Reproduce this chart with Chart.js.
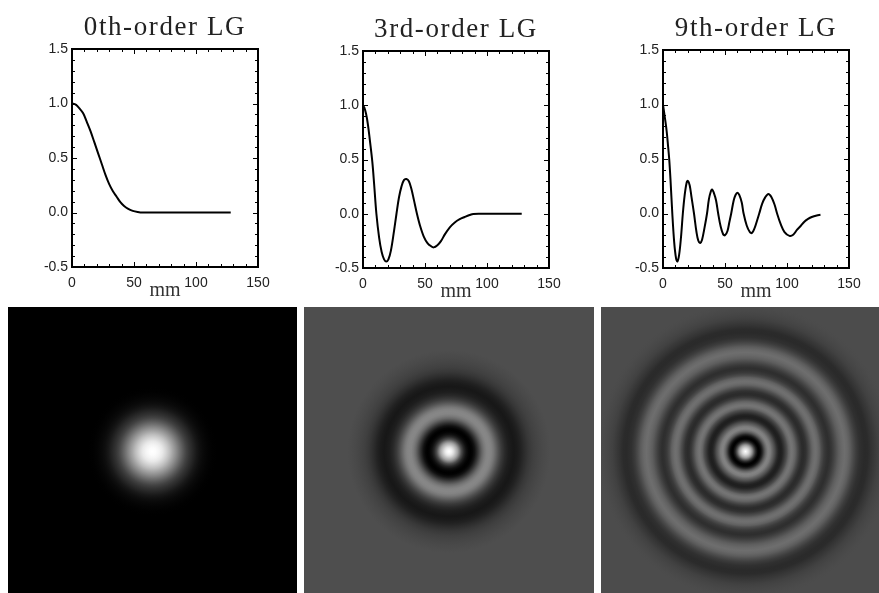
<!DOCTYPE html>
<html>
<head>
<meta charset="utf-8">
<title>LG modes</title>
<script src="https://cdn.jsdelivr.net/npm/chart.js@4"></script>
<style>
    html, body { margin: 0; padding: 0; background: #fff; overflow: hidden; width: 879px; height: 593px; }
    .panel { position: absolute; filter: blur(0.45px); }
</style>
</head>
<body>
<div class="panel" style="left:0;top:0;width:290px;height:300px"><canvas id="line0"></canvas></div>
<div class="panel" style="left:291px;top:2px;width:290px;height:299px"><canvas id="line3"></canvas></div>
<div class="panel" style="left:591px;top:1px;width:290px;height:300px"><canvas id="line9"></canvas></div>
<div class="panel" style="left:8px;top:307px;width:289px;height:289px"><canvas id="img0"></canvas></div>
<div class="panel" style="left:304px;top:307px;width:290px;height:289px"><canvas id="img3"></canvas></div>
<div class="panel" style="left:601px;top:307px;width:289px;height:289px"><canvas id="img9"></canvas></div>
<script>
// Radial profiles (mm, amplitude)
const titles = ['0th-order LG', '3rd-order LG', '9th-order LG'];
const xTicks = [0, 50, 100, 150];
const yTicks = [-0.5, 0, 0.5, 1.0, 1.5];
// half width of each lower image, in mm
const imageHalfMm = [128, 127, 124];

const mm0 = [0, 3, 6, 9, 12, 15, 18, 21, 24, 27, 30, 33, 36, 39, 42, 45, 49, 53, 57, 70, 90, 110, 128];
const amp0 = [1.0, 0.99, 0.955, 0.91, 0.83, 0.745, 0.645, 0.545, 0.445, 0.345, 0.26, 0.195, 0.145, 0.095, 0.06, 0.035, 0.015, 0.005, 0, 0, 0, 0, 0];

const mm3 = [0, 1, 2.5, 4, 5.5, 7.5, 9, 10.8, 13, 15, 17, 18.8, 20.5, 22.5, 25, 27, 29, 31, 33, 35, 37, 39, 41, 43.5, 46, 49, 52, 55, 57, 60, 63, 66, 70, 74, 78, 82, 86, 89, 95, 110, 128];
const amp3 = [1.0, 0.98, 0.92, 0.82, 0.68, 0.48, 0.27, 0.0, -0.22, -0.35, -0.42, -0.44, -0.42, -0.34, -0.16, 0.0, 0.15, 0.25, 0.31, 0.32, 0.30, 0.23, 0.13, 0.0, -0.11, -0.21, -0.27, -0.30, -0.31, -0.29, -0.25, -0.19, -0.125, -0.08, -0.05, -0.03, -0.012, -0.002, 0, 0, 0];

const mm9 = [0, 1, 2, 3, 4, 5, 6, 7.5, 9, 10.5, 11.6, 13, 14.5, 16, 17.5, 19, 20, 21.5, 23, 25, 27, 28.5, 30, 31.5, 33.5, 35.5, 37, 38.5, 39.6, 41, 42.8, 44.5, 46.5, 48.5, 50, 52, 53.5, 55, 57, 58.5, 60, 61.5, 63.5, 65, 67.5, 70, 71.7, 74, 76, 77.6, 80, 82.5, 85, 87.5, 90, 92, 95, 98, 102, 105, 108, 111, 114, 117, 120, 124, 127];
const amp9 = [1.0, 0.92, 0.84, 0.75, 0.63, 0.50, 0.32, 0.0, -0.26, -0.41, -0.44, -0.38, -0.22, 0.0, 0.17, 0.28, 0.30, 0.26, 0.15, 0.0, -0.17, -0.25, -0.27, -0.24, -0.13, 0.0, 0.13, 0.20, 0.22, 0.19, 0.12, 0.0, -0.12, -0.19, -0.20, -0.16, -0.08, 0.0, 0.12, 0.17, 0.19, 0.17, 0.10, 0.0, -0.11, -0.17, -0.18, -0.13, -0.06, 0.0, 0.09, 0.15, 0.18, 0.15, 0.08, 0.0, -0.10, -0.17, -0.205, -0.195, -0.15, -0.115, -0.075, -0.05, -0.032, -0.018, -0.012];

const profiles = [[mm0, amp0], [mm3, amp3], [mm9, amp9]];

// inward IDL style ticks on all four sides, plus the box
const boxTicks = {
    id: 'boxTicks',
    beforeDraw(chart) {
        // Computer Modern is set wider than Liberation Serif
        const block = chart.titleBlock;
        if (block && !block.spaced) {
            const draw = block.draw;
            block.draw = function() {
                chart.ctx.letterSpacing = '1.6px';
                draw.call(block);
                chart.ctx.letterSpacing = '0px';
            };
            block.spaced = true;
        }
    },
    afterDatasetsDraw(chart) {
        const { ctx, chartArea: a, scales: { x, y } } = chart;
        ctx.save();
        ctx.strokeStyle = '#000';
        ctx.lineWidth = 1;
        ctx.beginPath();
        for (let v = 0; v <= 150; v += 10) {
            const px = Math.round(x.getPixelForValue(v)) + 0.5;
            const len = v % 50 === 0 ? 5 : 3;
            ctx.moveTo(px, a.bottom); ctx.lineTo(px, a.bottom - len);
            ctx.moveTo(px, a.top); ctx.lineTo(px, a.top + len);
        }
        for (let i = -5; i <= 15; i++) {
            const py = Math.round(y.getPixelForValue(i / 10)) + 0.5;
            const len = i % 5 === 0 ? 5 : 3;
            ctx.moveTo(a.left, py); ctx.lineTo(a.left + len, py);
            ctx.moveTo(a.right, py); ctx.lineTo(a.right - len, py);
        }
        ctx.stroke();
        ctx.lineWidth = 2;
        ctx.strokeRect(a.left, a.top, a.right - a.left, a.bottom - a.top);
        ctx.restore();
    }
};

function lineChart(id, idx) {
    const [mm, amp] = profiles[idx];
    return new Chart(document.getElementById(id), {
        type: 'line',
        data: {
            datasets: [{
                data: mm.map((m, i) => ({ x: m, y: amp[i] })),
                borderColor: '#000',
                borderWidth: 2,
                pointRadius: 0,
                tension: 0.35
            }]
        },
        options: {
            responsive: true,
            maintainAspectRatio: false,
            animation: false,
            layout: { padding: { right: 32, left: 0, bottom: 0, top: 0 } },
            plugins: {
                legend: { display: false },
                tooltip: { enabled: false },
                title: {
                    display: true,
                    fullSize: false,
                    text: titles[idx],
                    color: '#222',
                    font: { family: '"Liberation Serif", serif', size: 27, weight: 'normal', lineHeight: 1.1 },
                    padding: { top: 13, bottom: 6.3 }
                }
            },
            scales: {
                x: {
                    type: 'linear',
                    min: 0,
                    max: 150,
                    afterBuildTicks(s) { s.ticks = xTicks.map(v => ({ value: v })); },
                    grid: { display: false, drawTicks: false },
                    border: { display: false },
                    ticks: { color: '#222', maxRotation: 0, padding: 8, font: { family: '"Liberation Sans", sans-serif', size: 14 } },
                    title: {
                        display: true,
                        text: 'mm',
                        color: '#333',
                        padding: { top: -6, bottom: -2 },
                        font: { family: '"Liberation Serif", serif', size: 20, lineHeight: 1.1 }
                    },
                    afterFit(s) { s.height = 33; }
                },
                y: {
                    type: 'linear',
                    min: -0.5,
                    max: 1.5,
                    afterBuildTicks(s) { s.ticks = yTicks.map(v => ({ value: v })); },
                    grid: { display: false, drawTicks: false },
                    border: { display: false },
                    ticks: {
                        color: '#222',
                        padding: 4,
                        font: { family: '"Liberation Sans", sans-serif', size: 14 },
                        callback: v => v.toFixed(1)
                    },
                    afterFit(s) { s.width = 72; }
                }
            }
        },
        plugins: [boxTicks]
    });
}

// grey level of every ring comes from the same profile, through the x scale
const radialImage = {
    id: 'radialImage',
    beforeDatasetsDraw(chart, args, opts) {
        const { ctx, chartArea: a, scales: { x, y } } = chart;
        const [mm, amp] = profiles[opts.idx];
        const lo = Math.min(...amp), hi = Math.max(...amp);
        const cx = x.getPixelForValue(0), cy = y.getPixelForValue(0);
        const rMax = Math.abs(x.getPixelForValue(mm[mm.length - 1]) - cx);
        const g = ctx.createRadialGradient(cx, cy, 0, cx, cy, rMax);
        mm.forEach((m, i) => {
            const v = Math.round(255 * (amp[i] - lo) / (hi - lo));
            g.addColorStop(Math.abs(x.getPixelForValue(m) - cx) / rMax, `rgb(${v},${v},${v})`);
        });
        ctx.save();
        ctx.fillStyle = g;
        ctx.fillRect(a.left, a.top, a.right - a.left, a.bottom - a.top);
        ctx.restore();
    }
};

function imageChart(id, idx) {
    const half = imageHalfMm[idx];
    return new Chart(document.getElementById(id), {
        type: 'scatter',
        data: { datasets: [{ data: [], pointRadius: 0 }] },
        options: {
            responsive: true,
            maintainAspectRatio: false,
            animation: false,
            layout: { padding: 0 },
            plugins: {
                legend: { display: false },
                tooltip: { enabled: false },
                radialImage: { idx: idx }
            },
            scales: {
                x: { type: 'linear', min: -half, max: half, display: false },
                y: { type: 'linear', min: -half, max: half, display: false }
            }
        },
        plugins: [radialImage]
    });
}

lineChart('line0', 0);
lineChart('line3', 1);
lineChart('line9', 2);
imageChart('img0', 0);
imageChart('img3', 1);
imageChart('img9', 2);
</script>
</body>
</html>
